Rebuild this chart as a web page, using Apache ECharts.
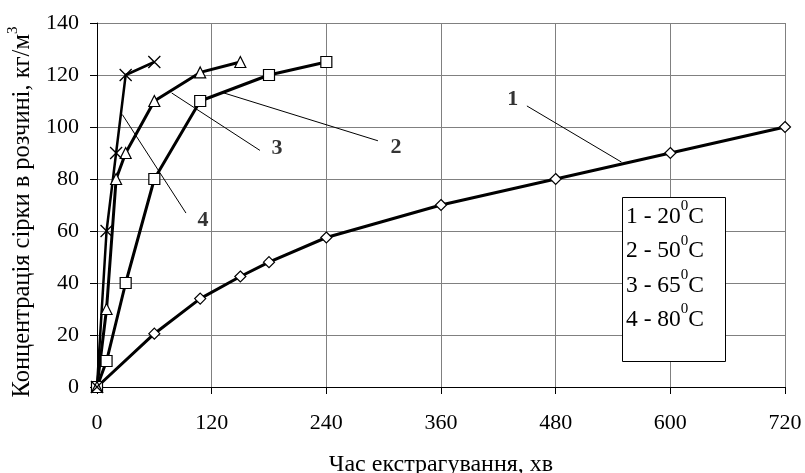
<!DOCTYPE html>
<html>
<head>
<meta charset="utf-8">
<script src="https://cdn.jsdelivr.net/npm/echarts@6/dist/echarts.min.js"></script>
<style>html,body{margin:0;padding:0;background:#fff}#c{width:805px;height:473px}</style>
</head>
<body>
<div id="c"></div>
<script>
// ---- data ----
const xTicks = [0, 120, 240, 360, 480, 600, 720];
const yTicks = [0, 20, 40, 60, 80, 100, 120, 140];
const t1 = [0, 60, 108, 150, 180, 240, 360, 480, 600, 720];
const c1 = [0, 20.5, 34, 42.5, 48, 57.5, 70, 80, 90, 100];
const t2 = [0, 10, 30, 60, 108, 180, 240];
const c2 = [0, 10, 40, 80, 110, 120, 125];
const t3 = [0, 10, 20, 30, 60, 108, 150];
const c3 = [0, 30, 80, 90, 110, 121, 125];
const t4 = [0, 10, 20, 30, 60];
const c4 = [0, 60, 90, 120, 125];
const legendNames = ['1 - 20', '2 - 50', '3 - 65', '4 - 80'];
const calloutLabels = ['1', '2', '3', '4'];
// annotation anchors in data units
const calloutFrom = [[449.9, 108.1], [131.8, 113.2], [78.1, 113.1], [26.5, 104.8]];
const calloutTo = [[548.9, 86.5], [294.0, 94.7], [170.5, 91.0], [93.1, 66.9]];
const calloutAt = [[435.2, 110.5], [312.8, 92.0], [188.3, 91.7], [110.9, 64.3]];

const FONT = 'Liberation Serif';
const zip = (a, b) => a.map((v, i) => [v, b[i]]);
const crossPath = 'path://M0,0L10,10M10,0L0,10';

function mainSeries(t, c, symbol, size, lw) {
  return {
    type: 'line', data: zip(t, c), symbol: symbol, symbolSize: size,
    showSymbol: true, animation: false, silent: true,
    lineStyle: { color: '#000', width: lw },
    itemStyle: { color: '#fff', borderColor: '#000', borderWidth: 1.2 },
    z: 5
  };
}

const series = [];
calloutLabels.forEach((lab, i) => {
  series.push({
    type: 'line', data: [calloutFrom[i], calloutTo[i]], symbol: 'none',
    lineStyle: { color: '#000', width: 1 }, silent: true, animation: false, z: 3
  });
});
series.push(mainSeries(t1, c1, 'diamond', 11, 3));
series.push(mainSeries(t2, c2, 'rect', 11, 3));
series.push(mainSeries(t3, c3, 'triangle', 11, 3));
const s4 = mainSeries(t4, c4, crossPath, 12, 2.5);
s4.itemStyle = { color: 'none', borderColor: '#000', borderWidth: 1.3 };
series.push(s4);
series.push({
  type: 'scatter', symbolSize: 0, silent: true, animation: false, z: 6,
  data: calloutAt.map((p, i) => ({ value: p, name: calloutLabels[i] })),
  label: { show: true, position: 'inside', formatter: p => p.name,
    fontFamily: FONT, fontWeight: 'bold', fontSize: 22, color: '#000' }
});

const chart = echarts.init(document.getElementById('c'), null, { renderer: 'canvas' });
const option = {
  backgroundColor: '#fff',
  animation: false,
  grid: { left: 97, right: 20, top: 23, bottom: 86, outerBoundsMode: 'none', containLabel: false },
  xAxis: {
    type: 'value', min: xTicks[0], max: xTicks[xTicks.length - 1], interval: 120,
    name: 'Час екстрагування, хв', nameLocation: 'middle', nameGap: 66,
    nameTextStyle: { fontFamily: FONT, fontSize: 24, color: '#000' },
    axisLine: { show: true, lineStyle: { color: '#000', width: 1 } },
    axisTick: { show: true, inside: false, length: 7, lineStyle: { color: '#000' } },
    axisLabel: { fontFamily: FONT, fontSize: 22, color: '#000', margin: 25,
      formatter: v => xTicks.includes(v) ? String(v) : '' },
    splitLine: { show: true, lineStyle: { color: '#808080', width: 1 } }
  },
  yAxis: {
    type: 'value', min: yTicks[0], max: yTicks[yTicks.length - 1], interval: 20,
    name: '{n|Концентрація сірки в розчині, кг/м}{s|3}', nameLocation: 'middle', nameGap: 49,
    nameRotate: 90,
    nameTextStyle: { fontFamily: FONT, color: '#000', padding: [0, 14, 0, 0],
      rich: { n: { fontFamily: FONT, fontSize: 24.5, color: '#000', lineHeight: 30, verticalAlign: 'bottom' },
              s: { fontFamily: FONT, fontSize: 15, color: '#000', verticalAlign: 'top', lineHeight: 30 } } },
    axisLine: { show: true, lineStyle: { color: '#000', width: 1 } },
    axisTick: { show: true, inside: false, length: 7, lineStyle: { color: '#000' } },
    axisLabel: { fontFamily: FONT, fontSize: 22, color: '#000', margin: 18,
      formatter: v => yTicks.includes(v) ? String(v) : '' },
    splitLine: { show: true, lineStyle: { color: '#808080', width: 1 } }
  },
  series: series,
  graphic: [
    { type: 'rect', left: 622, top: 197, shape: { width: 103, height: 164 },
      style: { fill: '#fff', stroke: '#000', lineWidth: 1 }, z: 100, silent: true }
  ].concat(legendNames.map((n, i) => ({
    type: 'text', left: 626, top: 199 + i * 34.3, z: 101, silent: true,
    style: {
      text: '{n|' + n + '}{s|0}{n|C}',
      rich: {
        n: { fontFamily: FONT, fontSize: 23.5, fill: '#000', lineHeight: 30, verticalAlign: 'bottom' },
        s: { fontFamily: FONT, fontSize: 15, fill: '#000', lineHeight: 30, verticalAlign: 'top' }
      }
    }
  })))
};
chart.setOption(option);
</script>
</body>
</html>
